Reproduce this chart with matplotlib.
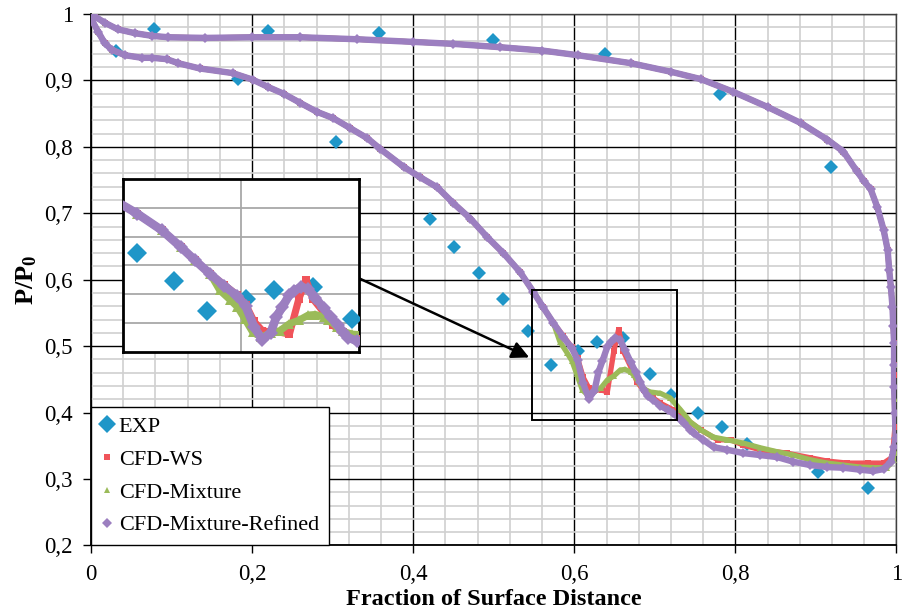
import matplotlib
matplotlib.use("Agg")
import matplotlib.pyplot as plt
from matplotlib.ticker import MultipleLocator, FuncFormatter

plt.rcParams["font.family"] = ["Liberation Serif", "DejaVu Serif"]
plt.rcParams["mathtext.fontset"] = "custom"
plt.rcParams["mathtext.rm"] = "Liberation Serif"
plt.rcParams["mathtext.bf"] = "Liberation Serif:bold"

# experimental points
exp_x = [0.031, 0.078, 0.183, 0.220, 0.304, 0.357, 0.421, 0.451, 0.482, 0.499, 0.512,
         0.543, 0.571, 0.604, 0.628, 0.638, 0.661, 0.694, 0.720, 0.754, 0.781, 0.783,
         0.815, 0.902, 0.919, 0.964]
exp_y = [0.945, 0.977, 0.902, 0.975, 0.808, 0.971, 0.692, 0.649, 0.610, 0.961, 0.571,
         0.523, 0.471, 0.492, 0.507, 0.940, 0.513, 0.458, 0.426, 0.400, 0.880, 0.378,
         0.353, 0.310, 0.769, 0.287]

# pressure side (upper branch), common to the CFD runs
upper_x = [0.000, 0.005, 0.017, 0.033, 0.055, 0.076, 0.096, 0.142, 0.200, 0.260, 0.330,
           0.400, 0.450, 0.508, 0.560, 0.604, 0.670, 0.720, 0.757, 0.797, 0.840, 0.881,
           0.914, 0.934, 0.951, 0.960, 0.968, 0.976, 0.984, 0.989, 0.991, 0.993, 0.995,
           0.996, 0.997, 0.997]
upper_y = [0.993, 0.996, 0.987, 0.977, 0.971, 0.967, 0.965, 0.964, 0.965, 0.965, 0.962,
           0.958, 0.955, 0.950, 0.945, 0.938, 0.926, 0.913, 0.902, 0.883, 0.860, 0.836,
           0.811, 0.793, 0.763, 0.748, 0.736, 0.710, 0.675, 0.645, 0.614, 0.589, 0.559,
           0.530, 0.505, 0.471]

# suction side up to the shock, common to the CFD runs
lead_x = [0.000, 0.009, 0.017, 0.026, 0.042, 0.063, 0.076, 0.094, 0.108, 0.135, 0.176,
          0.201, 0.220, 0.239, 0.260, 0.280, 0.301, 0.322, 0.343, 0.359, 0.388, 0.409,
          0.430, 0.450, 0.471, 0.492, 0.512, 0.533, 0.549, 0.561, 0.574]
lead_y = [0.993, 0.973, 0.956, 0.946, 0.938, 0.934, 0.934, 0.932, 0.926, 0.918, 0.911,
          0.901, 0.890, 0.880, 0.866, 0.853, 0.843, 0.828, 0.813, 0.797, 0.770, 0.754,
          0.739, 0.715, 0.692, 0.664, 0.640, 0.611, 0.582, 0.559, 0.535]

# suction side from the shock to the trailing edge
ws_x = [0.586, 0.597, 0.604, 0.611, 0.618, 0.626, 0.634, 0.641, 0.649, 0.655, 0.661,
        0.672, 0.678, 0.686, 0.698, 0.707, 0.723, 0.740, 0.757, 0.778, 0.794, 0.810,
        0.831, 0.864, 0.893, 0.914, 0.939, 0.964, 0.984, 0.995, 0.998, 0.997, 0.997]
ws_y = [0.516, 0.498, 0.482, 0.453, 0.437, 0.434, 0.434, 0.431, 0.492, 0.525, 0.492,
        0.464, 0.446, 0.434, 0.422, 0.414, 0.404, 0.389, 0.374, 0.359, 0.359, 0.351,
        0.344, 0.339, 0.332, 0.327, 0.324, 0.324, 0.324, 0.333, 0.378, 0.457, 0.471]

mix_x = [0.582, 0.591, 0.597, 0.603, 0.610, 0.617, 0.625, 0.633, 0.641, 0.649, 0.657,
         0.663, 0.670, 0.674, 0.681, 0.686, 0.694, 0.707, 0.719, 0.732, 0.744, 0.757,
         0.773, 0.790, 0.810, 0.831, 0.852, 0.872, 0.893, 0.914, 0.934, 0.955, 0.976,
         0.988, 0.997, 0.999, 0.998, 0.997]
mix_y = [0.507, 0.490, 0.478, 0.458, 0.434, 0.426, 0.433, 0.437, 0.449, 0.455, 0.464,
         0.465, 0.461, 0.456, 0.444, 0.436, 0.431, 0.429, 0.422, 0.404, 0.386, 0.374,
         0.363, 0.359, 0.354, 0.347, 0.341, 0.336, 0.329, 0.324, 0.321, 0.318, 0.317,
         0.317, 0.329, 0.339, 0.420, 0.471]

ref_x = [0.586, 0.597, 0.604, 0.611, 0.618, 0.625, 0.630, 0.635, 0.641, 0.645, 0.651,
         0.657, 0.663, 0.670, 0.676, 0.682, 0.686, 0.691, 0.698, 0.707, 0.716, 0.723,
         0.732, 0.736, 0.744, 0.748, 0.760, 0.773, 0.790, 0.810, 0.831, 0.852, 0.872,
         0.893, 0.914, 0.934, 0.955, 0.971, 0.984, 0.993, 0.997, 0.999, 0.998, 0.997]
ref_y = [0.514, 0.497, 0.479, 0.444, 0.421, 0.433, 0.461, 0.478, 0.499, 0.506, 0.513,
         0.509, 0.494, 0.476, 0.461, 0.446, 0.434, 0.425, 0.419, 0.410, 0.404, 0.399,
         0.389, 0.384, 0.374, 0.369, 0.359, 0.348, 0.344, 0.339, 0.336, 0.333, 0.326,
         0.321, 0.318, 0.317, 0.314, 0.312, 0.315, 0.326, 0.348, 0.362, 0.400, 0.438]

series = [
    ("CFD-WS", ws_x, ws_y, "#f0545a", "s", 4.5, 3.8),
    ("CFD-Mixture", mix_x, mix_y, "#9bbb59", "^", 5.0, 3.8),
    ("CFD-Mixture-Refined", ref_x, ref_y, "#9c7fc0", "D", 5.5, 4.6),
]
exp_color = "#1f96c8"


def loop(tail_x, tail_y):
    # suction side LE -> TE, then back along the pressure side TE -> LE
    xs = lead_x + tail_x + upper_x[::-1]
    ys = lead_y + tail_y + upper_y[::-1]
    return xs, ys


def draw(ax, scale, with_labels):
    ax.plot(exp_x, exp_y, linestyle="none", marker="D", color=exp_color,
            markersize=7.5 * scale, markeredgewidth=0, zorder=3,
            label="EXP" if with_labels else None)
    for i, (name, tx, ty, col, mk, ms, lw) in enumerate(series):
        xs, ys = loop(tx, ty)
        ax.plot(xs, ys, color=col, linewidth=lw * scale, solid_joinstyle="round",
                zorder=4 + i)
        ax.plot(xs, ys, linestyle="none", marker=mk, color=col,
                markersize=ms * scale, markeredgewidth=0, zorder=4 + i,
                label=name if with_labels else None)


def comma(v, pos):
    if abs(v - round(v)) < 1e-9:
        return f"{int(round(v))}"
    return f"{v:.1f}".replace(".", ",")


fig = plt.figure(figsize=(9.03, 6.16), dpi=100)
ax = fig.add_axes([0.1008, 0.1145, 0.8920, 0.8628])

draw(ax, 1.0, True)

ax.set_xlim(0, 1)
ax.set_ylim(0.2, 1)
ax.xaxis.set_major_locator(MultipleLocator(0.2))
ax.xaxis.set_minor_locator(MultipleLocator(0.04))
ax.yaxis.set_major_locator(MultipleLocator(0.1))
ax.yaxis.set_minor_locator(MultipleLocator(0.02))
ax.xaxis.set_major_formatter(FuncFormatter(comma))
ax.yaxis.set_major_formatter(FuncFormatter(comma))
ax.set_axisbelow(True)
ax.grid(which="minor", color="#d0d0d0", linewidth=1.2)
ax.grid(which="major", color="black", linewidth=1.0)
ax.tick_params(which="major", direction="out", length=6, width=1,
               labelsize=16.5, pad=7)
ax.tick_params(which="minor", length=0)
for side in ["left", "bottom"]:
    ax.spines[side].set_color("black")
    ax.spines[side].set_linewidth(1.3)
for side in ["top", "right"]:
    ax.spines[side].set_color("#404040")
    ax.spines[side].set_linewidth(1.0)

ax.set_xlabel("Fraction of Surface Distance", fontsize=17.5, fontweight="bold",
              labelpad=3)
ax.set_ylabel(r"$\mathbf{P/P_0}$", fontsize=19, labelpad=4)

# zoom rectangle and arrow
ax.add_patch(plt.Rectangle((0.548, 0.389), 0.180, 0.195, fill=False,
                           edgecolor="black", linewidth=1.4, zorder=8))
ax.annotate("", xy=(0.544, 0.483), xytext=(0.333, 0.602),
            arrowprops=dict(arrowstyle="-|>", color="black", lw=1.8,
                            mutation_scale=26, shrinkA=0, shrinkB=0),
            zorder=8)

leg = ax.legend(loc="lower left", bbox_to_anchor=(0, 0), borderaxespad=0,
                fontsize=16, frameon=True, fancybox=False, edgecolor="black",
                framealpha=1, handlelength=0.5, handletextpad=0.3,
                labelspacing=0.55, borderpad=0.45, markerscale=1.0)
leg.get_frame().set_linewidth(1.0)
leg.set_zorder(10)
for h in leg.legend_handles:
    if h.get_label() == "EXP":
        h.set_markersize(9)
    else:
        h.set_markersize(5)

# inset
axin = fig.add_axes([0.1362, 0.4286, 0.2614, 0.2808])
draw(axin, 1.35, False)
axin.set_xlim(0.5, 0.7)
axin.set_ylim(0.4, 0.7)
axin.set_xticks([0.6])
axin.set_yticks([0.45, 0.5, 0.55, 0.6, 0.65])
axin.tick_params(length=0, labelbottom=False, labelleft=False)
axin.set_axisbelow(True)
axin.grid(color="#a8a8a8", linewidth=1.3)
for s in axin.spines.values():
    s.set_linewidth(2.0)
    s.set_color("black")
axin.set_zorder(9)

fig.savefig("out.png", dpi=100)
